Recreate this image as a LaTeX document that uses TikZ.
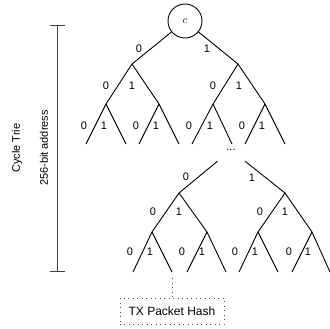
\documentclass[tikz,border=0pt]{standalone}
\usepackage{fontspec}
\setmainfont{Liberation Sans}
\begin{document}
\begin{tikzpicture}[x=1bp,y=-1bp,
  every node/.style={font=\fontsize{11bp}{13bp}\selectfont, inner sep=0pt},
  edgeline/.style={draw=black, line width=0.9bp},
  bit/.style={},
  rootnode/.style={draw=black, line width=0.9bp, circle, minimum size=34bp},
  gapnode/.style={minimum width=30bp, minimum height=22bp},
  hashbox/.style={draw=black!70, dash pattern=on 0.9bp off 3.6bp, line width=0.9bp,
                  minimum width=104bp, minimum height=26bp,
                  font=\fontsize{12bp}{14bp}\selectfont},
  barline/.style={draw=black!75, line width=1bp}]
\useasboundingbox (0,0) rectangle (330,329);

% ---------- upper part of the trie ----------
\node[rootnode] (c) at (185,21) {\fontsize{11bp}{13bp}\selectfont$c$};
\coordinate (a0) at (132,64);
\coordinate (a1) at (238,64);
\coordinate (b00) at (106,104);
\coordinate (b01) at (159,104);
\coordinate (b10) at (213,104);
\coordinate (b11) at (265,104);
\foreach \n/\x in {l1/86,l2/126,l3/139,l4/179,l5/192,l6/232,l7/245,l8/285}
  \coordinate (\n) at (\x,144);

\draw[edgeline] (c) -- (a0) (c) -- (a1);
\draw[edgeline] (a0) -- (b00) (a0) -- (b01) (a1) -- (b10) (a1) -- (b11);
\draw[edgeline] (b00) -- (l1) (b00) -- (l2) (b01) -- (l3) (b01) -- (l4)
                (b10) -- (l5) (b10) -- (l6) (b11) -- (l7) (b11) -- (l8);

\node[bit] (ta0) at (139,49) {0};
\node[bit] (ta1) at (207,49) {1};
\node[bit] (tb0) at (106,86) {0};
\node[bit] (tb1) at (132,86) {1};
\node[bit] (tb2) at (213,86) {0};
\node[bit] (tb3) at (239,86) {1};
\foreach \i/\x/\t in {0/84/0,1/104/1,2/136/0,3/156/1,4/189/0,5/210/1,6/242/0,7/262/1}
  \node[bit] (tc\i) at (\x,126) {\t};

% ---------- continuation below ----------
\node[gapnode] (dots) at (231,150) {...};
\coordinate (c0) at (179,193);
\coordinate (c1) at (285,193);
\coordinate (d00) at (152,232);
\coordinate (d01) at (207,232);
\coordinate (d10) at (258,232);
\coordinate (d11) at (312,232);
\foreach \n/\x in {m1/133,m2/172,m3/187,m4/226,m5/239,m6/278,m7/292,m8/330}
  \coordinate (\n) at (\x,272);

\draw[edgeline] (dots) -- (c0) (dots) -- (c1);
\draw[edgeline] (c0) -- (d00) (c0) -- (d01) (c1) -- (d10) (c1) -- (d11);
\draw[edgeline] (d00) -- (m1) (d00) -- (m2) (d01) -- (m3) (d01) -- (m4)
                (d10) -- (m5) (d10) -- (m6) (d11) -- (m7) (d11) -- (m8);

\node[bit] (ua0) at (186,177) {0};
\node[bit] (ua1) at (252,178) {1};
\node[bit] (ub0) at (153,212) {0};
\node[bit] (ub1) at (179,212) {1};
\node[bit] (ub2) at (260,212) {0};
\node[bit] (ub3) at (285,212) {1};
\foreach \i/\x/\t in {0/130/0,1/150/1,2/182/0,3/202/1,4/235/0,5/255/1,6/289/0,7/308/1}
  \node[bit] (uc\i) at (\x,252) {\t};

% ---------- leaf hash ----------
\node[hashbox] (hash) at (172,311) {TX Packet Hash};
\draw[draw=black!70, dash pattern=on 0.9bp off 3.6bp, line width=0.9bp,
      shorten <=6bp] (m2) -- (hash.north);

% ---------- depth bar ----------
\coordinate (bartop) at (57,25);
\coordinate (barbot) at (57,271);
\draw[barline] (bartop) -- (barbot);
\draw[barline] ([xshift=-7bp]bartop) -- ([xshift=8bp]bartop);
\draw[barline] ([xshift=-7bp]barbot) -- ([xshift=8bp]barbot);
\node[rotate=90] (trie) at (17,148) {Cycle Trie};
\node[rotate=90] (addr) at (44,148) {256-bit address};
\end{tikzpicture}
\end{document}
